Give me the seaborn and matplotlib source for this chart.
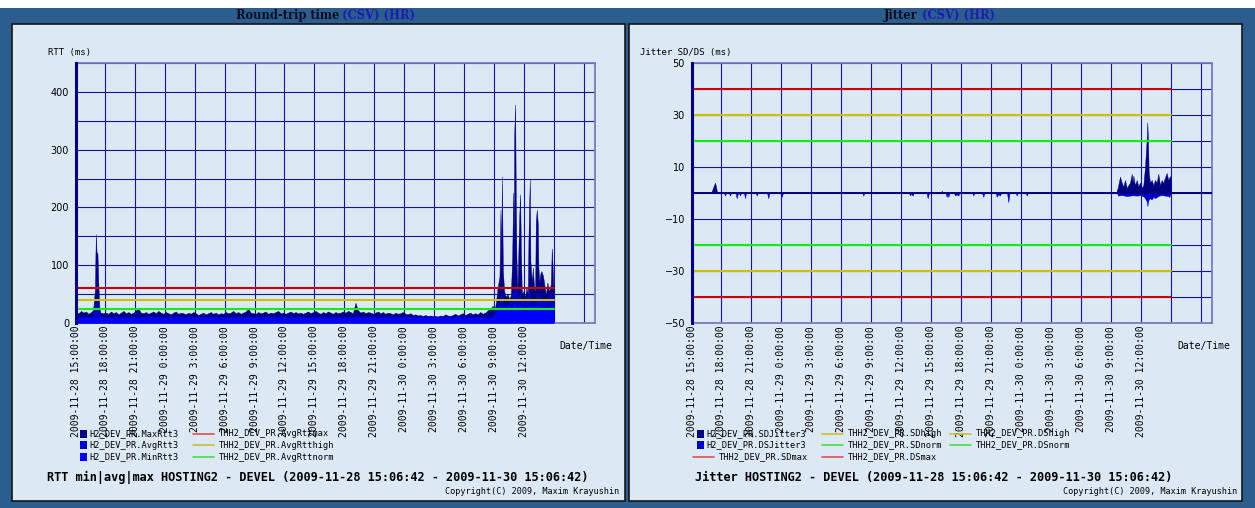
import numpy as np
import pandas as pd
import matplotlib
matplotlib.use("Agg")
import matplotlib.pyplot as plt
from matplotlib.patches import Rectangle
from matplotlib.lines import Line2D
import seaborn as sns

W, H = 1255, 508

# ---------------- data ----------------
tick_labels = ["2009-11-28 15:00:00", "2009-11-28 18:00:00", "2009-11-28 21:00:00",
               "2009-11-29 0:00:00", "2009-11-29 3:00:00", "2009-11-29 6:00:00",
               "2009-11-29 9:00:00", "2009-11-29 12:00:00", "2009-11-29 15:00:00",
               "2009-11-29 18:00:00", "2009-11-29 21:00:00", "2009-11-30 0:00:00",
               "2009-11-30 3:00:00", "2009-11-30 6:00:00", "2009-11-30 9:00:00",
               "2009-11-30 12:00:00"]
# hours since 2009-11-28 15:06:42
tick_hours = [0.0, 2.888, 5.888, 8.888, 11.888, 14.888, 17.888, 20.888, 23.888,
              26.888, 29.888, 32.888, 35.888, 38.888, 41.888, 44.888]
extra_grid_hours = [47.888, 50.888]
data_end = 47.87

# RTT max: spike segment at start
max_seg1_hours = [0.0, 0.25, 0.5, 0.75, 1.0, 1.25, 1.5, 1.7, 1.8, 1.9, 1.95, 2.0,
                  2.05, 2.15, 2.25, 2.35, 2.45]
max_seg1 = [19, 17, 21, 18, 20, 16, 19, 22, 38, 60, 122, 154, 124, 120, 62, 25, 18]
# RTT max: quiet period sampled every 15 min from 2.75 h
max_base_start = 2.75
max_base = [17,
            18, 16, 20, 17, 19, 15, 18, 21, 17, 19, 16, 18, 22, 25, 18, 17,
            19, 16, 18, 20, 17, 21, 18, 16, 19, 17, 15, 18, 20, 16, 18, 17,
            15, 18, 16, 19, 17, 14, 16, 18, 15, 17, 19, 16, 18, 15, 17, 16,
            19, 17, 18, 21, 17, 19, 16, 18, 20, 25, 18, 17, 16, 19, 17, 18,
            20, 16, 18, 17, 19, 21, 17, 18, 16, 18, 20, 17, 19, 17, 18, 16,
            18, 20, 17, 19, 21, 18, 16, 19, 17, 20, 18, 16, 19, 17, 18, 20,
            18, 21, 19, 17, 35, 22, 18, 20, 17, 19, 18, 16, 18, 20, 17, 19,
            16, 18, 17, 15, 18, 16, 17, 19, 16, 15, 17, 14, 15, 13, 14, 12,
            14, 12, 13, 12, 12, 11, 13, 12, 15, 13, 12, 14, 16, 13, 15, 17,
            14, 16, 18, 15, 17, 15, 19, 16, 18, 22, 24]
# RTT max: busy period at the end
max_seg3_hours = [41.75, 41.9, 42.07, 42.23, 42.43, 42.53, 42.6, 42.67, 42.77, 42.9,
                  43.07, 43.23, 43.4, 43.57, 43.7, 43.8, 43.87, 43.9, 44.0, 44.07,
                  44.13, 44.23, 44.4, 44.5, 44.57, 44.67, 44.83, 45.0, 45.13, 45.27,
                  45.33, 45.4, 45.47, 45.53, 45.67, 45.77, 45.9, 46.0, 46.07, 46.17,
                  46.27, 46.33, 46.43, 46.5, 46.63, 46.8, 46.97, 47.07, 47.23, 47.4,
                  47.57, 47.67, 47.73, 47.83, 47.87]
max_seg3 = [30, 18, 35, 60, 81, 196, 110, 254, 90, 55,
            45, 50, 42, 48, 114, 226, 150, 326, 378, 203,
            113, 55, 181, 223, 130, 50, 55, 45, 61, 50,
            142, 203, 250, 107, 70, 96, 61, 55, 177, 196,
            171, 96, 70, 84, 90, 81, 61, 49, 70, 55,
            67, 129, 107, 61, 61]

avg_hours = [0, 1.7, 1.85, 1.95, 2.05, 2.2, 2.35, 2.5, 41.7, 42.1, 42.4, 42.6, 42.8,
             43.1, 43.5, 43.85, 44.0, 44.3, 44.5, 44.8, 45.1, 45.4, 45.6, 45.9, 46.2,
             46.5, 46.9, 47.2, 47.5, 47.7, 47.87]
avg_rtt = [11.5, 11.5, 25, 40, 45, 35, 14, 11.5, 12, 25, 40, 55, 35,
           30, 40, 58, 62, 45, 52, 38, 42, 56, 40, 35, 52,
           45, 38, 45, 50, 48, 45]

min_hours = [0, 41.7, 42.1, 42.4, 42.7, 43.0, 43.3, 43.6, 43.9, 44.2, 44.5, 44.8,
             45.1, 45.4, 45.7, 46.0, 46.3, 46.6, 46.9, 47.2, 47.5, 47.87]
min_rtt = [9.5, 9.5, 18, 30, 24, 28, 32, 20, 36, 26, 32, 22,
           18, 34, 24, 30, 32, 20, 27, 22, 29, 28]

rtt_thresholds = {"max": 60, "high": 40, "norm": 25}

sd_hours = [0, 1.9, 2.0, 2.1, 2.2, 2.3, 2.4, 2.5, 2.6, 24.9, 24.97, 25.05, 42.4,
            42.57, 42.8, 42.97, 43.13, 43.3, 43.47, 43.63, 43.8, 43.97, 44.07, 44.13,
            44.3, 44.47, 44.63, 44.8, 44.97, 45.13, 45.3, 45.37, 45.47, 45.53, 45.6,
            45.67, 45.8, 45.97, 46.13, 46.3, 46.47, 46.63, 46.8, 46.97, 47.13, 47.3,
            47.47, 47.63, 47.8, 47.87]
sd_jitter = [0, 0, 1, 2, 3, 4, 2.5, 0.5, 0, 0, 1, 0, 0,
             2, 6.3, 4, 2.5, 5, 2, 3, 4, 7.4, 4, 6.7,
             3, 5, 2.5, 4, 2, 3, 10, 14.5, 20.8, 27.2, 20,
             8, 4, 5, 3, 5, 4, 7.4, 3, 5, 4, 6,
             7.7, 5, 6.5, 5]

ds_hours = [0, 3.2, 3.3, 3.4, 3.7, 3.8, 3.9, 4.35, 4.47, 4.6, 4.7, 4.8, 4.9,
            5.2, 5.3, 5.4, 6.37, 6.47, 6.57, 7.5, 7.63, 7.75, 8.85, 8.97, 9.1,
            17.03, 17.13, 17.23, 21.7, 21.8, 21.9, 22.07, 22.17, 23.45, 23.57, 23.7,
            25.35, 25.47, 25.55, 25.63, 25.75, 26.2, 26.3, 26.45, 26.63, 26.75,
            28.03, 28.13, 28.23, 29.0, 29.13, 29.25, 30.37, 30.47, 30.6, 30.8, 30.9,
            31.5, 31.63, 31.75, 32.37, 32.47, 32.57, 33.37, 33.47, 33.57,
            42.5, 42.6, 43.0, 43.5, 44.0, 44.5, 44.9, 45.2, 45.45, 45.55, 45.6, 45.67,
            45.8, 45.97, 46.13, 46.3, 46.5, 46.7, 47.0, 47.3, 47.6, 47.75, 47.87]
ds_jitter = [0, 0, -1, 0, 0, -1, 0, 0, -2, 0, 0, -1, 0,
             0, -2, 0, 0, -1, 0, 0, -2, 0, 0, -1.5, 0,
             0, -1, 0, 0, -1, -0.3, -1, 0, 0, -2, 0,
             0, -1.5, -0.5, -1.5, 0, 0, -1, -0.5, -1, 0,
             0, -1, 0, 0, -1.5, 0, 0, -1.5, -0.5, -1, 0,
             0, -3.5, 0, 0, -1, 0, 0, -1, 0,
             0, -1, -0.8, -1.2, -0.9, -1, -0.8, -1.5, -3, -5, -3.5, -2.5,
             -2, -2.5, -1.5, -2, -1.5, -1, -0.8, -1, -1.2, -1.5, 0]

jit_thresholds = {"SDmax": 40, "SDhigh": 30, "SDnorm": 20,
                  "DSmax": -40, "DShigh": -30, "DSnorm": -20}

# ---------------- style ----------------
sns.set_theme(style="white")
plt.rcParams['font.family'] = ['DejaVu Sans']
plt.rcParams['text.color'] = 'black'
plt.rcParams['xtick.color'] = 'black'
plt.rcParams['ytick.color'] = 'black'
plt.rcParams['xtick.labelcolor'] = 'black'
plt.rcParams['ytick.labelcolor'] = 'black'
MONO = 'DejaVu Sans Mono'

FRAME = '#2c5d8f'
PANEL = '#dce9f5'
NAVY = '#000080'
MIDBLUE = '#0000c8'
BRIGHT = '#0000ff'
RED = '#cc0000'
YEL = '#c8c000'
GRN = '#10f010'
GRIDC = '#14148c'
SPINE = '#7a7ac2'

fig = plt.figure(figsize=(W / 100, H / 100), dpi=100)
fig.patch.set_facecolor(FRAME)


def fr(x0, y0, x1, y1):
    return [x0 / W, 1 - y1 / H, (x1 - x0) / W, (y1 - y0) / H]


def fx(x):
    return x / W


def fy(y):
    return 1 - y / H


fig.add_artist(Rectangle((0, fy(8)), 1, 8 / H, transform=fig.transFigure,
                         facecolor='white', edgecolor='none', zorder=-10))
for (x0, x1) in [(12, 625), (629, 1242)]:
    r = fr(x0, 24, x1, 501)
    fig.add_artist(Rectangle((r[0], r[1]), r[2], r[3], transform=fig.transFigure,
                             facecolor=PANEL, edgecolor='#151515', linewidth=1.2,
                             zorder=-10))

# header titles
for (xr, xl, name) in [(339, 342, "Round-trip time"), (918, 922, "Jitter")]:
    fig.text(fx(xr), fy(15), name, ha='right', va='center', fontsize=8.3,
             fontweight='bold', family='DejaVu Serif', color='#0c0c20')
    fig.text(fx(xl), fy(15), "(CSV) (HR)", ha='left', va='center', fontsize=8.3,
             fontweight='bold', family='DejaVu Serif', color='#1c1cb0')


def style_axes(ax, ymin, ymax):
    ax.set_facecolor(PANEL)
    ax.set_xlim(0, 52)
    ax.set_ylim(ymin, ymax)
    for s in ['top', 'right', 'bottom']:
        ax.spines[s].set_color(SPINE)
        ax.spines[s].set_linewidth(1.3)
    ax.spines['left'].set_color(NAVY)
    ax.spines['left'].set_linewidth(2.2)
    ax.spines['left'].set_zorder(6)
    ax.set_xticks(tick_hours)
    ax.set_xticklabels(tick_labels, rotation=90, family=MONO, fontsize=7,
                       va='top', ha='center')
    ax.set_xticks(extra_grid_hours, minor=True)
    ax.tick_params(axis='both', which='both', length=0)
    ax.tick_params(axis='x', pad=2)
    ax.tick_params(axis='y', pad=5, labelsize=7)
    ax.grid(True, which='both', color=GRIDC, linewidth=0.8)
    ax.set_axisbelow(True)


# ---------------- RTT chart ----------------
ax1 = fig.add_axes(fr(76, 63, 595, 323))
style_axes(ax1, 0, 450)
ax1.set_yticks([0, 100, 200, 300, 400])
ax1.set_yticks([50, 150, 250, 350, 450], minor=True)

max_base_hours = list(max_base_start + 0.25 * np.arange(len(max_base)))
rtt_max_df = pd.DataFrame({"hour": max_seg1_hours + max_base_hours + max_seg3_hours,
                           "rtt": max_seg1 + max_base + max_seg3})
ax1.fill_between(rtt_max_df["hour"], 0, rtt_max_df["rtt"], color=NAVY, lw=0.3,
                 edgecolor=NAVY, zorder=2)
ax1.fill_between(avg_hours, 0, avg_rtt, color=MIDBLUE, lw=0, zorder=3)
ax1.fill_between(min_hours, 0, min_rtt, color=BRIGHT, lw=0, zorder=4)
for key, col in [("max", RED), ("high", YEL), ("norm", GRN)]:
    sns.lineplot(x=[0, data_end], y=[rtt_thresholds[key]] * 2, color=col,
                 linewidth=1.5, ax=ax1, zorder=5)
ax1.set_xlim(0, 52)
ax1.set_ylim(0, 450)
ax1.set_xlabel('')
ax1.set_ylabel('')

# ---------------- Jitter chart ----------------
ax2 = fig.add_axes(fr(692, 63, 1212, 323))
style_axes(ax2, -50, 50)
ax2.set_yticks([-50, -30, -10, 10, 30, 50])
ax2.set_yticks([-40, -20, 0, 20, 40], minor=True)
ax2.fill_between(sd_hours, 0, sd_jitter, color=NAVY, lw=0.3, edgecolor=NAVY, zorder=2)
ax2.fill_between(ds_hours, 0, ds_jitter, color=MIDBLUE, lw=0.3, edgecolor=MIDBLUE, zorder=3)
ax2.axhline(0, color=NAVY, linewidth=1.4, zorder=4)
for key, col in [("SDmax", RED), ("SDhigh", YEL), ("SDnorm", GRN),
                 ("DSmax", RED), ("DShigh", YEL), ("DSnorm", GRN)]:
    sns.lineplot(x=[0, data_end], y=[jit_thresholds[key]] * 2, color=col,
                 linewidth=1.5, ax=ax2, zorder=5)
ax2.set_xlim(0, 52)
ax2.set_ylim(-50, 50)
ax2.set_xlabel('')
ax2.set_ylabel('')

# axis captions
fig.text(fx(48), fy(52), "RTT (ms)", family=MONO, fontsize=6.5, ha='left', va='center')
fig.text(fx(640), fy(52), "Jitter SD/DS (ms)", family=MONO, fontsize=6.5, ha='left', va='center')
fig.text(fx(559), fy(346), "Date/Time", family=MONO, fontsize=7, ha='left', va='center')
fig.text(fx(1177), fy(346), "Date/Time", family=MONO, fontsize=7, ha='left', va='center')


# ---------------- legends ----------------
def leg_square(x, y, col, text):
    fig.add_artist(Rectangle((fx(x), fy(y + 4)), 7 / W, 8 / H, transform=fig.transFigure,
                             facecolor=col, edgecolor='none', zorder=5))
    fig.text(fx(x + 9), fy(y), text, family=MONO, fontsize=6.2, ha='left', va='center')


def leg_line(x, y, col, text, length=21, gap=5):
    fig.add_artist(Line2D([fx(x), fx(x + length)], [fy(y), fy(y)], color=col,
                          linewidth=1.2, transform=fig.transFigure, zorder=5))
    fig.text(fx(x + length + gap), fy(y), text, family=MONO, fontsize=6.2,
             ha='left', va='center')


rows = [434, 445, 457]
LRED, LYEL, LGRN = '#e05050', '#c8c030', '#40e040'
leg_square(80, rows[0], NAVY, "H2_DEV_PR.MaxRtt3")
leg_square(80, rows[1], MIDBLUE, "H2_DEV_PR.AvgRtt3")
leg_square(80, rows[2], BRIGHT, "H2_DEV_PR.MinRtt3")
leg_line(193, rows[0], LRED, "THH2_DEV_PR.AvgRttmax")
leg_line(193, rows[1], LYEL, "THH2_DEV_PR.AvgRtthigh")
leg_line(193, rows[2], LGRN, "THH2_DEV_PR.AvgRttnorm")

leg_square(697, rows[0], NAVY, "H2_DEV_PR.SDJitter3")
leg_square(697, rows[1], MIDBLUE, "H2_DEV_PR.DSJitter3")
leg_line(693, rows[2], LRED, "THH2_DEV_PR.SDmax")
leg_line(822, rows[0], LYEL, "THH2_DEV_PR.SDhigh")
leg_line(822, rows[1], LGRN, "THH2_DEV_PR.SDnorm")
leg_line(822, rows[2], LRED, "THH2_DEV_PR.DSmax")
leg_line(950, rows[0], LYEL, "THH2_DEV_PR.DShigh")
leg_line(950, rows[1], LGRN, "THH2_DEV_PR.DSnorm")

# bottom titles
fig.text(fx(47), fy(477),
         "RTT min|avg|max HOSTING2 - DEVEL (2009-11-28 15:06:42 - 2009-11-30 15:06:42)",
         family=MONO, fontsize=8.6, fontweight='bold', ha='left', va='center')
fig.text(fx(695), fy(477),
         "Jitter HOSTING2 - DEVEL (2009-11-28 15:06:42 - 2009-11-30 15:06:42)",
         family=MONO, fontsize=8.6, fontweight='bold', ha='left', va='center')
for xr in [619, 1237]:
    fig.text(fx(xr), fy(492), "Copyright(C) 2009, Maxim Krayushin", family=MONO,
             fontsize=6.1, ha='right', va='center')

fig.savefig("out.png", dpi=100, facecolor=fig.get_facecolor())
